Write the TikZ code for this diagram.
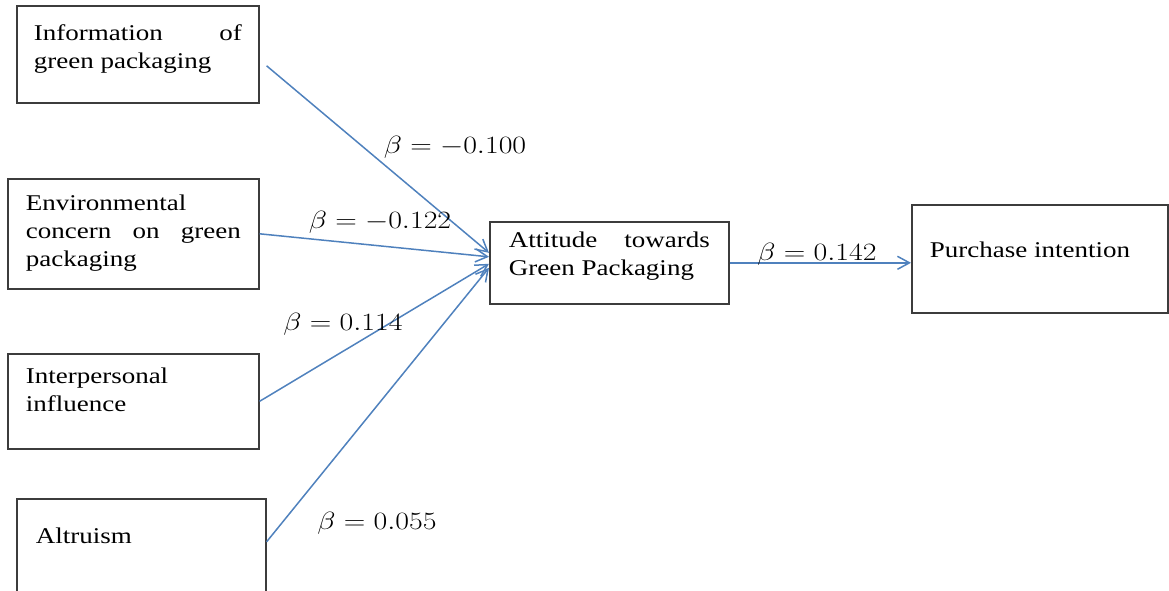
\documentclass[tikz,border=0pt]{standalone}
\usepackage[no-math]{fontspec}
\setmainfont{Liberation Serif}[FakeStretch=1.2]
\usepackage{graphicx}
\usetikzlibrary{arrows.meta}

\definecolor{arrowblue}{RGB}{79,129,189}
\definecolor{boxgray}{RGB}{60,60,60}

% text block inside a box: width, height, lines
\newcommand{\ftext}[3]{\parbox[t][#2][t]{#1}{#3}}
% path coefficient
\newcommand{\bval}[1]{\scalebox{1.2}[1]{$\beta = #1$}}

\begin{document}
\begin{tikzpicture}[
    x=1pt, y=-1pt,
    factor/.style={rectangle, draw=boxgray, line width=1.6pt, anchor=north west, font=\fontsize{22.5}{28}\selectfont},
    link/.style={-{Straight Barb[length=12pt,width=13pt]}, draw=arrowblue, line width=1.5pt},
    coef/.style={anchor=base, inner sep=0pt, font=\fontsize{24}{28}\selectfont}
    ]
    \useasboundingbox (0,0) rectangle (1169,590);
    \clip (0,0) rectangle (1169,590);

    %Boxes
    \node[factor, inner xsep=17pt, inner ysep=19pt] (info) at (16,5) {\ftext{208pt}{59pt}{Information \hfill of\\green packaging}};
    \node[factor, inner xsep=18pt, inner ysep=16.5pt] (env) at (7,178) {\ftext{215pt}{77pt}{Environmental\\concern \hfill on \hfill green\\packaging}};
    \node[factor, inner xsep=18pt, inner ysep=14.5pt] (inter) at (7,353) {\ftext{215pt}{66pt}{Interpersonal\\influence}};
    \node[factor, inner xsep=19pt, inner ysep=29.5pt] (alt) at (16,498) {\ftext{211pt}{51pt}{Altruism}};

    \node[factor, inner xsep=19pt, inner ysep=10pt] (att) at (489,221) {\ftext{201pt}{62pt}{Attitude \hfill towards\\Green Packaging}};
    \node[factor, inner xsep=18pt, inner ysep=37.5pt] (pur) at (911,204) {\ftext{220pt}{33pt}{Purchase intention}};

    %Lines
    \draw[link] ([shift={(7pt,-11.5pt)}]info.east) -- ([yshift=10pt]att.west);
    \draw[link] (env.east) -- ([yshift=6pt]att.west);
    \draw[link] (inter.east) -- ([yshift=-1pt]att.west);
    \draw[link] ([yshift=12pt]alt.east) -- ([yshift=-5pt]att.west);
    \draw[link] (att.east) -- (att.east -| pur.west);

    %Coefficients
    \node[coef] (b1) at (455,153) {\bval{-0.100}};
    \node[coef] (b2) at (380,228) {\bval{-0.122}};
    \node[coef] (b3) at (343,330) {\bval{0.114}};
    \node[coef] (b4) at (377,529) {\bval{0.055}};
    \node[coef] (b5) at (817,260) {\bval{0.142}};
\end{tikzpicture}
\end{document}
